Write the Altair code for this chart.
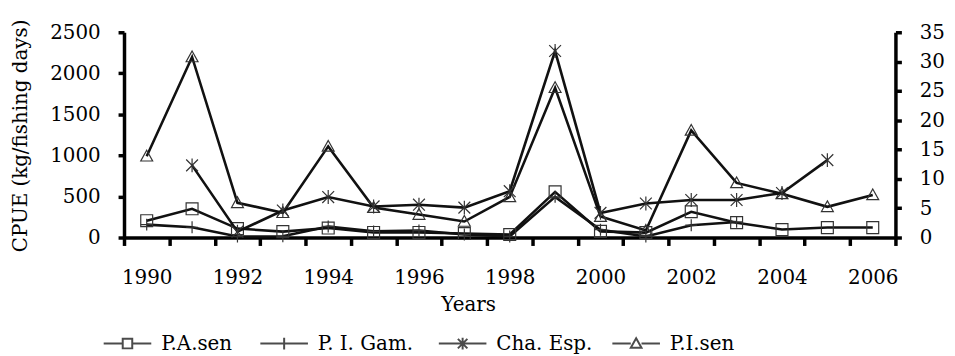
import altair as alt
import pandas as pd

years = list(range(1990, 2007))
series_names = ["P.A.sen", "P. I. Gam.", "Cha. Esp.", "P.I.sen"]

# left axis (kg/fishing days)
pa_sen = [205, 350, 109, 72, 115, 62, 62, 48, 36, 556, 75, 60, 314, 181, 97, 121, 121]
pi_gam = [157, 125, 12, 15, 135, 75, 85, 36, 12, 495, 95, 12, 150, 190, None, None, None]
pi_sen = [990, 2199, 423, 302, 1110, 365, 280, 195, 495, 1824, 255, 85, 1305, 665, 532, 374, 519]
# right axis
cha_esp = [None, 12.3, 1.0, 4.6, 6.9, 5.3, 5.6, 5.1, 7.9, 31.8, 4.2, 5.8, 6.4, 6.4, 7.6, 13.2, None]

left_ticks = [0, 500, 1000, 1500, 2000, 2500]
right_ticks = [0, 5, 10, 15, 20, 25, 30, 35]

marker_paths = [
    "M-1,-1H1V1H-1Z",                                              # square
    "M0,-1V1M-1,0H1",                                              # plus
    "M0,-1V1M-0.85,-0.85L0.85,0.85M-0.85,0.85L0.85,-0.85",        # asterisk
    "M0,-1L1,0.8H-1Z",                                             # triangle
]
legend_paths = [
    "M-4,0H-0.8M0.8,0H4M-0.8,-0.8H0.8V0.8H-0.8Z",
    "M-4,0H4M0,-1V1",
    "M-4,0H4M0,-1V1M-0.8,-0.8L0.8,0.8M-0.8,0.8L0.8,-0.8",
    "M-4,0H-0.9M0.9,0H4M0,-0.9L0.9,0.7H-0.9Z",
]
legend_x = [-6.5, 151.5, 331.5, 506.5]

rows = []
for name, vals, ax in [(series_names[0], pa_sen, "left"), (series_names[1], pi_gam, "left"),
                       (series_names[2], cha_esp, "right"), (series_names[3], pi_sen, "left")]:
    for yr, v in zip(years, vals):
        if v is not None:
            rows.append({"year": yr, "series": name, "value": v, "axis": ax})
df = pd.DataFrame(rows)

FONT = "DejaVu Serif"

x_enc = alt.X(
    "year:O",
    scale=alt.Scale(type="band", paddingInner=0, paddingOuter=0, domain=years),
    bandPosition=0.5,
    axis=alt.Axis(
        title="Years", tickBand="extent",
        labelExpr="datum.value % 2 == 0 ? datum.label : ''",
        labelAngle=0, labelOverlap=False, labelPadding=22,
        tickSize=8, tickWidth=3.5, domainWidth=3.5,
        titleX=347, titleY=58, titleBaseline="top", titleAlign="center",
    ),
)

shape_scale = alt.Scale(domain=series_names, range=marker_paths)

base = alt.Chart(df)

left_y = alt.Y(
    "value:Q",
    scale=alt.Scale(domain=[0, 2500], nice=False, zero=True),
    axis=alt.Axis(
        values=left_ticks, format="d", orient="left", title="CPUE (kg/fishing days)",
        labelPadding=18, tickSize=6, tickWidth=3.5, domainWidth=3.5,
        titleX=-104, titleY=104, titleAngle=-90, titleBaseline="middle", titleAlign="center",
    ),
)
right_y = alt.Y(
    "value:Q",
    scale=alt.Scale(domain=[0, 35], nice=False, zero=True),
    axis=alt.Axis(
        values=right_ticks, format="d", orient="right", title=None,
        labelPadding=18, tickSize=6, tickWidth=3.5, domainWidth=3.5,
    ),
)

left_base = base.transform_filter("datum.axis == 'left'")
left_layer = alt.layer(
    left_base.mark_line(color="#111111", strokeWidth=2.6).encode(x=x_enc, y=left_y, detail="series:N"),
    left_base.mark_point(filled=False, color="#333333", strokeWidth=1.2, size=144, opacity=1).encode(
        x=x_enc, y=left_y, shape=alt.Shape("series:N", scale=shape_scale, legend=None)
    ),
)

right_base = base.transform_filter("datum.axis == 'right'")
right_layer = alt.layer(
    right_base.mark_line(color="#111111", strokeWidth=2.6).encode(x=x_enc, y=right_y, detail="series:N"),
    right_base.mark_point(filled=False, color="#333333", strokeWidth=1.2, size=196, opacity=1).encode(
        x=x_enc, y=right_y, shape=alt.Shape("series:N", scale=shape_scale, legend=None)
    ),
)

legend_layers = []
for name, path, lx in zip(series_names, legend_paths, legend_x):
    legend_layers.append(
        base.transform_filter("false").mark_point(filled=False, color="black", strokeWidth=2).encode(
            shape=alt.Shape(
                "series:N",
                scale=alt.Scale(domain=[name], range=[path]),
                legend=alt.Legend(
                    title=None, orient="none", legendX=lx, legendY=304, direction="horizontal",
                    symbolSize=144, symbolStrokeWidth=2, symbolStrokeColor="black",
                    symbolFillColor="transparent", labelFont=FONT, labelFontSize=20, labelColor="black",
                    labelOffset=24, padding=0, labelLimit=300,
                ),
            )
        )
    )

chart = alt.layer(left_layer, right_layer, *legend_layers).resolve_scale(
    y="independent", shape="independent"
).properties(
    width=778, height=207,
    autosize=alt.AutoSizeParams(type="none"),
    padding={"left": 117, "top": 23, "right": 52, "bottom": 116},
).configure_view(stroke=None).configure_axis(
    grid=False, domainColor="black", tickColor="black",
    labelFont=FONT, labelFontSize=20, labelColor="black",
    titleFont=FONT, titleFontSize=20, titleFontWeight="normal", titleColor="black",
)

chart.save("out.html", embed_options={"renderer": "svg", "actions": False})
